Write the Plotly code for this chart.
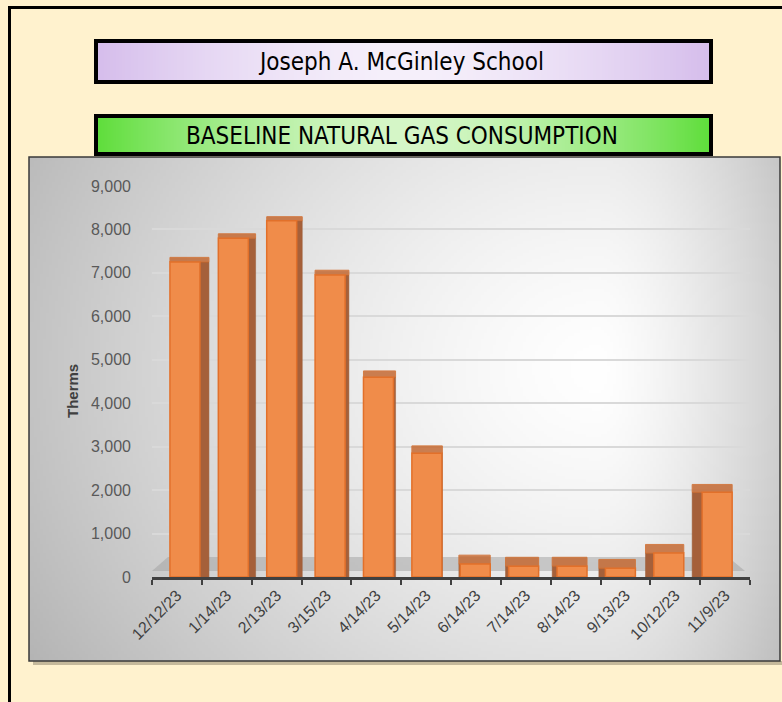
import base64, struct, zlib
import numpy as np
import plotly.graph_objects as go

# ---------------- data ----------------
categories = ["12/12/23", "1/14/23", "2/13/23", "3/15/23", "4/14/23", "5/14/23",
              "6/14/23", "7/14/23", "8/14/23", "9/13/23", "10/12/23", "11/9/23"]
therms = [7250, 7800, 8200, 6950, 4600, 2850, 300, 250, 250, 200, 550, 1950]
y_ticks = [0, 1000, 2000, 3000, 4000, 5000, 6000, 7000, 8000, 9000]
y_tick_text = ["0", "1,000", "2,000", "3,000", "4,000", "5,000", "6,000", "7,000", "8,000", "9,000"]
title_school = "Joseph A. McGinley School"
title_chart = "BASELINE NATURAL GAS CONSUMPTION"
y_title = "Therms"

W, H = 782, 702


def px(x):
    return x / W


def py(y):
    return 1 - y / H


def png_uri(arr):
    arr = np.clip(arr, 0, 255).astype(np.uint8)
    h, w, _ = arr.shape
    raw = b"".join(b"\x00" + arr[r].tobytes() for r in range(h))

    def chunk(t, d):
        c = struct.pack(">I", len(d)) + t + d
        return c + struct.pack(">I", zlib.crc32(t + d) & 0xFFFFFFFF)

    png = b"\x89PNG\r\n\x1a\n" + chunk(b"IHDR", struct.pack(">IIBBBBB", w, h, 8, 2, 0, 0, 0))
    png += chunk(b"IDAT", zlib.compress(raw, 9)) + chunk(b"IEND", b"")
    return "data:image/png;base64," + base64.b64encode(png).decode()


# chart-box radial gray gradient
gw, gh = 250, 170
gx = np.linspace(0, 1, gw)[None, :]
gy = np.linspace(0, 1, gh)[:, None]
cx, cy = 0.76, 0.42
sx = np.where(gx < cx, 0.80, 0.30)
d = np.sqrt(((gx - cx) / sx) ** 2 + ((gy - cy) / 1.0) ** 2)
d = np.clip(d, 0, 1.15)
v = 255 - 64 * d ** 1.4
box_img = np.stack([v, v, v], axis=-1)


def hgrad(edge, center, w=200, h=4):
    t = np.abs(np.linspace(-1, 1, w))
    t = t ** 1.6
    e = np.array(edge, float)
    c = np.array(center, float)
    row = c[None, :] * (1 - t[:, None]) + e[None, :] * t[:, None]
    return np.repeat(row[None, :, :], h, axis=0)


purple_img = hgrad((214, 190, 236), (246, 240, 251))
green_img = hgrad((96, 222, 60), (214, 247, 200))

# ---------------- bar geometry (perspective styling) ----------------
n = len(categories)
cat_px = (750 - 152) / n
px_per_therm = (577 - 186) / 9000
face_w = 30 / cat_px
face_off = [-0.14 - 0.32 * i / (n - 1) for i in range(n)]
side_px = [9 - 19 * i / (n - 1) for i in range(n)]
side_w = [max(abs(s), 0.5) / cat_px for s in side_px]
side_off = [fo + face_w if s > 0 else fo - abs(s) / cat_px for fo, s in zip(face_off, side_px)]
top_off = [min(fo, so) for fo, so in zip(face_off, side_off)]
top_w = [face_w + sw for sw in side_w]
top_h = [(9 - 0.6 * t / 1000) / px_per_therm for t in therms]

fig = go.Figure()
fig.add_trace(go.Bar(
    x=categories, y=therms, width=side_w, offset=side_off,
    marker=dict(color="#A5603A", line=dict(color="#9A5A34", width=0.5)),
    hoverinfo="skip", showlegend=False,
))
fig.add_trace(go.Bar(
    x=categories, y=top_h, base=therms, width=top_w, offset=top_off,
    marker=dict(color="#C46A34", opacity=0.85, line=dict(color="#D06A2A", width=1)),
    hoverinfo="skip", showlegend=False,
))
fig.add_trace(go.Bar(
    x=categories, y=therms, width=face_w, offset=face_off,
    marker=dict(color="#F08C4A", line=dict(color="#E2702A", width=1.5)),
    showlegend=False, name=y_title,
))

shapes = [
    # outer frame
    dict(type="rect", xref="paper", yref="paper", x0=px(9.5), x1=px(800), y0=py(7.5), y1=py(720),
         line=dict(color="black", width=3), fillcolor="rgba(0,0,0,0)", layer="below"),
    # chart box shadow
    dict(type="rect", xref="paper", yref="paper", x0=px(33), x1=px(784), y0=py(661), y1=py(665),
         line=dict(width=0), fillcolor="rgba(90,80,60,0.35)", layer="below"),
    # floor
    dict(type="path", xref="paper", yref="paper",
         path=f"M {px(152)},{py(571)} L {px(745)},{py(571)} L {px(728)},{py(557)} L {px(168)},{py(557)} Z",
         line=dict(width=0), fillcolor="rgba(160,160,160,0.5)", layer="below"),
    # chart box border
    dict(type="rect", xref="paper", yref="paper", x0=px(29), x1=px(780), y0=py(157), y1=py(661),
         line=dict(color="#3A3A3A", width=1.5), fillcolor="rgba(0,0,0,0)", layer="above"),
    # title box borders
    dict(type="rect", xref="paper", yref="paper", x0=px(96), x1=px(711), y0=py(41), y1=py(82),
         line=dict(color="black", width=4), fillcolor="rgba(0,0,0,0)", layer="above"),
    dict(type="rect", xref="paper", yref="paper", x0=px(96), x1=px(711), y0=py(116), y1=py(154),
         line=dict(color="black", width=4), fillcolor="rgba(0,0,0,0)", layer="above"),
]

images = [
    dict(source=png_uri(box_img), xref="paper", yref="paper", x=px(29), y=py(157),
         sizex=px(780) - px(29), sizey=py(157) - py(661), sizing="stretch",
         xanchor="left", yanchor="top", layer="below"),
    dict(source=png_uri(purple_img), xref="paper", yref="paper", x=px(96), y=py(41),
         sizex=px(711) - px(96), sizey=py(41) - py(82), sizing="stretch",
         xanchor="left", yanchor="top", layer="below"),
    dict(source=png_uri(green_img), xref="paper", yref="paper", x=px(96), y=py(116),
         sizex=px(711) - px(96), sizey=py(116) - py(154), sizing="stretch",
         xanchor="left", yanchor="top", layer="below"),
]

title_font = "Liberation Sans Narrow, Arial Narrow, DejaVu Sans Condensed, sans-serif"
annotations = [
    dict(text=title_school, xref="paper", yref="paper", x=px(401), y=py(62),
         showarrow=False, font=dict(family=title_font, size=24, color="black"),
         xanchor="center", yanchor="middle"),
    dict(text=title_chart, xref="paper", yref="paper", x=px(402), y=py(136),
         showarrow=False, font=dict(family=title_font, size=24, color="black"),
         xanchor="center", yanchor="middle"),
    dict(text=f"<b>{y_title}</b>", xref="paper", yref="paper", x=px(73), y=py(391),
         showarrow=False, textangle=-90, font=dict(size=15, color="#404040"),
         xanchor="center", yanchor="middle"),
]

fig.update_layout(
    template="none",
    width=W, height=H, autosize=False,
    margin=dict(l=0, r=0, t=0, b=0, pad=0, autoexpand=False),
    paper_bgcolor="#FFF2CE",
    plot_bgcolor="rgba(0,0,0,0)",
    barmode="overlay",
    shapes=shapes, images=images, annotations=annotations,
    font=dict(family="Liberation Sans, Arial, sans-serif", color="#595959"),
    xaxis=dict(
        domain=[px(152), px(750)],
        type="category", automargin=False,
        tickangle=-45,
        tickfont=dict(size=16, color="#404040"),
        showline=True, linecolor="#404040", linewidth=2.5,
        ticks="outside", tickson="boundaries", ticklen=5, tickcolor="#404040", tickwidth=2,
        showgrid=False, zeroline=False,
        range=[-0.5, n - 0.5],
    ),
    yaxis=dict(
        domain=[py(577), py(186)], automargin=False,
        range=[0, 9000],
        tickvals=y_ticks, ticktext=y_tick_text,
        tickfont=dict(size=16, color="#595959"),
        showgrid=True, gridcolor="#D9D9D9", gridwidth=2,
        zeroline=False, showline=False, ticks="", ticklabelstandoff=20,
    ),
)

fig.write_html("out.html", config={"displayModeBar": False},
               post_script="document.body.style.margin='0';document.body.style.overflow='hidden';")
